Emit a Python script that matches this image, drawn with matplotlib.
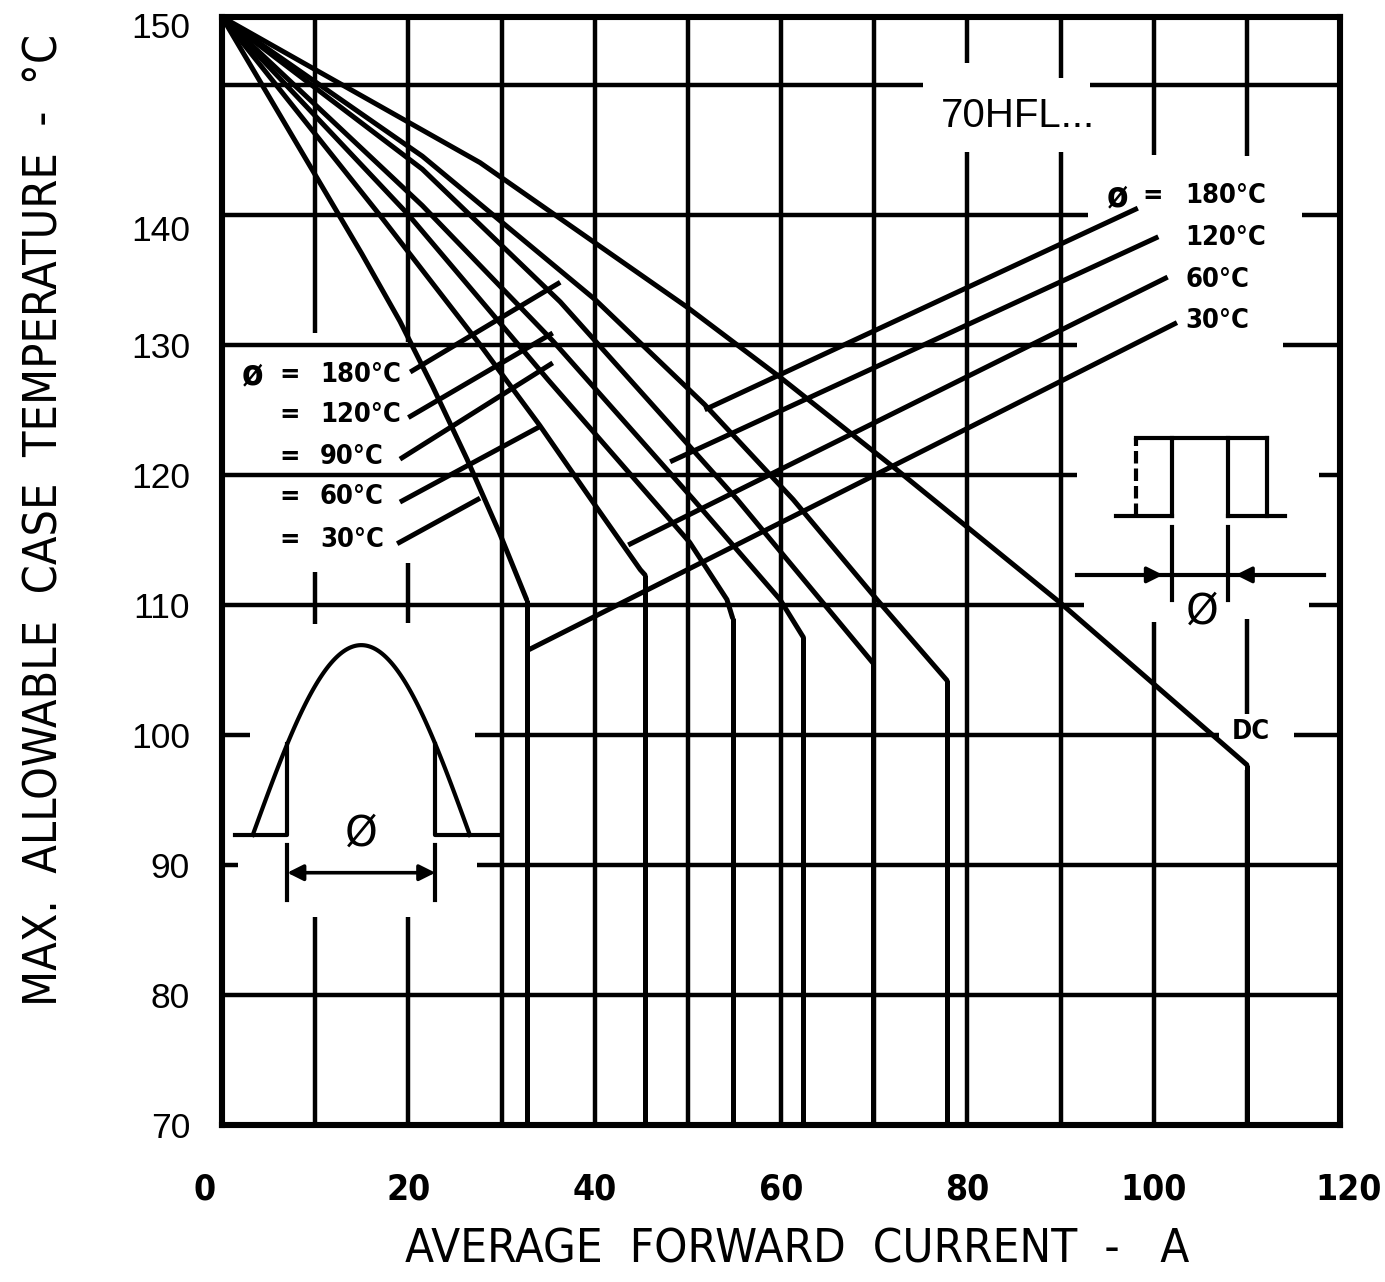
import numpy as np
import matplotlib
matplotlib.use("Agg")
import matplotlib.pyplot as plt
from matplotlib.transforms import ScaledTranslation

# ---------------------------------------------------------------------------
# Max. allowable case temperature vs. average forward current (70HFL...)
# Current in A, temperature in °C.  Each curve turns vertical at its
# maximum average current.
# ---------------------------------------------------------------------------
dc_I = [0, 27.7, 49.9, 59.9, 72.4, 89.9, 110.0]
dc_T = [155.2, 144.0, 132.9, 127.5, 120.4, 110.2, 97.7]

rect30_I = [0, 15.0, 19.1, 22.6, 26.3, 29.8, 32.7]
rect30_T = [155.2, 137.0, 131.8, 126.8, 121.2, 115.5, 110.4]

rect60_I = [0, 16.9, 27.7, 34.1, 40.2, 44.9, 45.4]
rect60_T = [155.2, 140.0, 130.0, 123.8, 117.5, 112.7, 112.3]

rect90_I = [0, 20.0, 35.0, 50.2, 54.2, 54.8]
rect90_T = [155.2, 140.0, 127.3, 114.8, 110.4, 109.0]

rect120_I = [0, 21.5, 35.5, 50.6, 59.9, 62.4]
rect120_T = [155.2, 140.7, 130.3, 118.1, 110.4, 107.5]

sine180_I = [0, 21.5, 36.3, 55.3, 69.9]
sine180_T = [155.2, 143.5, 133.3, 118.1, 105.5]

rect180_I = [0, 21.5, 40.0, 51.8, 61.3, 70.3, 77.8]
rect180_T = [155.2, 144.5, 133.5, 125.4, 118.1, 110.4, 104.2]

curves = [
    (dc_I, dc_T), (rect30_I, rect30_T), (rect60_I, rect60_T),
    (rect90_I, rect90_T), (rect120_I, rect120_T),
    (sine180_I, sine180_T), (rect180_I, rect180_T),
]

# Leader lines from the labels to the curves
sine_labels = ["180°C", "120°C", "90°C", "60°C", "30°C"]
sine_label_T = [127.7, 124.6, 121.4, 118.3, 115.0]
sine_leader_I0 = [20.2, 20.0, 19.1, 19.1, 18.8]
sine_leader_I1 = [36.3, 35.5, 35.5, 34.1, 27.7]
sine_leader_T0 = [127.9, 124.4, 121.2, 117.9, 114.7]
sine_leader_T1 = [134.8, 130.9, 128.6, 123.7, 118.2]

rect_labels = ["180°C", "120°C", "60°C", "30°C"]
rect_label_T = [141.4, 138.2, 135.0, 131.8]
rect_leader_I0 = [98.3, 100.5, 101.5, 102.5]
rect_leader_I1 = [51.8, 48.1, 43.6, 32.8]
rect_leader_T0 = [140.5, 138.3, 135.2, 131.7]
rect_leader_T1 = [125.0, 121.0, 114.6, 106.5]

y_tick_values = [70, 80, 90, 100, 110, 120, 130, 139, 154.6]
y_tick_labels = ["70", "80", "90", "100", "110", "120", "130", "140", "150"]
x_tick_values = [0, 20, 40, 60, 80, 100, 120]

# Grid segments, interrupted where labels and sketches sit
hgrid = {
    80: [(0, 120)],
    90: [(0, 1.7), (27.4, 120)],
    100: [(0, 3.0), (27.2, 107.0), (115.1, 120)],
    110: [(0, 92.5), (116.7, 120)],
    120: [(0, 91.8), (117.7, 120)],
    130: [(0, 91.8), (113.9, 120)],
    140: [(0, 93.0), (115.9, 120)],
    150: [(0, 75.2), (93.2, 120)],
}
vgrid = {
    10: [(70, 86.0), (108.5, 112.5), (130.9, 155.2)],
    20: [(70, 86.0), (108.6, 113.2), (130.2, 155.2)],
    30: [(70, 155.2)], 40: [(70, 155.2)], 50: [(70, 155.2)],
    60: [(70, 155.2)], 70: [(70, 155.2)],
    80: [(70, 144.8), (151.7, 155.2)],
    90: [(70, 144.8), (150.5, 155.2)],
    100: [(70, 108.7), (144.6, 155.2)],
    110: [(70, 97.3), (101.6, 108.9), (144.5, 155.2)],
}

LW_GRID = 3.2
LW_CURVE = 3.6
LW_SKETCH = 3.0
INK = "black"

fig = plt.figure(figsize=(13.85, 12.82), dpi=100)
ax = fig.add_axes([222 / 1385, 1 - 1125 / 1282,
                   (1340 - 222) / 1385, (1125 - 17) / 1282])
ax.set_xlim(0, 120)
ax.set_ylim(70, 155.2)
for sp in ax.spines.values():
    sp.set_linewidth(4.4)
    sp.set_color(INK)
    sp.set_zorder(5)

for y, segs in hgrid.items():
    for a, b in segs:
        ax.plot([a, b], [y, y], color=INK, lw=LW_GRID, solid_capstyle="butt", zorder=1)
for x, segs in vgrid.items():
    for a, b in segs:
        ax.plot([x, x], [a, b], color=INK, lw=LW_GRID, solid_capstyle="butt", zorder=1)

for I, T in curves:
    ax.plot(I, T, color=INK, lw=LW_CURVE, solid_joinstyle="round",
            solid_capstyle="round", zorder=3)
    ax.plot([I[-1], I[-1]], [T[-1], 70], color=INK, lw=LW_CURVE,
            solid_capstyle="butt", zorder=3)

for i0, i1, t0, t1 in zip(sine_leader_I0, sine_leader_I1, sine_leader_T0, sine_leader_T1):
    ax.plot([i0, i1], [t0, t1], color=INK, lw=LW_CURVE, solid_capstyle="butt", zorder=3)
for i0, i1, t0, t1 in zip(rect_leader_I0, rect_leader_I1, rect_leader_T0, rect_leader_T1):
    ax.plot([i0, i1], [t0, t1], color=INK, lw=LW_CURVE, solid_capstyle="butt", zorder=3)

lab_font = dict(family="DejaVu Sans", stretch="condensed", weight="bold",
                fontsize=19.5, color=INK, va="center")
phi_font = dict(lab_font, fontsize=25)
ax.text(3.3, sine_label_T[0], "ø", ha="center", **phi_font)
for lab, t in zip(sine_labels, sine_label_T):
    ax.text(7.3, t, "=", ha="center", **lab_font)
    ax.text(10.5, t, lab, ha="left", **lab_font)

ax.text(96.1, rect_label_T[0], "ø", ha="center", **phi_font)
ax.text(99.9, rect_label_T[0], "=", ha="center", **lab_font)
for lab, t in zip(rect_labels, rect_label_T):
    ax.text(103.4, t, lab, ha="left", **lab_font)
ax.text(108.4, 100.2, "DC", ha="left", **lab_font)

ax.text(85.4, 147.6, "70HFL...", ha="center", va="center",
        family="Liberation Sans", fontsize=29, color=INK)

# Half-sine conduction sketch
base_T = 92.3
s0, s1, amp = 3.3, 26.6, 14.6
xs = np.linspace(s0, s1, 120)
ax.plot(xs, base_T + amp * np.sin(np.pi * (xs - s0) / (s1 - s0)),
        color=INK, lw=LW_SKETCH, zorder=3)
cut_l, cut_r = 7.0, 22.9
h_l = base_T + amp * np.sin(np.pi * (cut_l - s0) / (s1 - s0))
h_r = base_T + amp * np.sin(np.pi * (cut_r - s0) / (s1 - s0))
ax.plot([1.4, cut_l, cut_l], [base_T, base_T, h_l], color=INK, lw=LW_SKETCH, zorder=3)
ax.plot([cut_r, cut_r, 29.8], [h_r, base_T, base_T], color=INK, lw=LW_SKETCH, zorder=3)
for x in (cut_l, cut_r):
    ax.plot([x, x], [91.5, 87.3], color=INK, lw=LW_SKETCH, zorder=3)
ax.annotate("", xy=(cut_l, 89.4), xytext=(cut_r, 89.4),
            arrowprops=dict(arrowstyle="<|-|>", color=INK, lw=2.6,
                            mutation_scale=24, shrinkA=0, shrinkB=0))
ax.text(15.0, 92.4, "Ø", ha="center", va="center", family="DejaVu Sans",
        fontsize=30, color=INK)

# Rectangular conduction sketch
top_T, low_T = 122.8, 116.8
ax.plot([96.0, 102.0], [low_T, low_T], color=INK, lw=LW_SKETCH, zorder=3)
ax.plot([108.0, 114.1], [low_T, low_T], color=INK, lw=LW_SKETCH, zorder=3)
ax.plot([98.1, 98.1], [low_T, top_T], color=INK, lw=LW_SKETCH, ls=(0, (3, 1.2)), zorder=3)
ax.plot([98.1, 112.2], [top_T, top_T], color=INK, lw=LW_SKETCH, zorder=3)
for x in (102.0, 108.0, 112.2):
    ax.plot([x, x], [low_T, top_T], color=INK, lw=LW_SKETCH, zorder=3)
for x in (102.0, 108.0):
    ax.plot([x, x], [116.0, 110.4], color=INK, lw=LW_SKETCH, zorder=3)
ax.plot([91.8, 118.3], [112.3, 112.3], color=INK, lw=LW_SKETCH, zorder=3)
ax.annotate("", xy=(101.0, 112.3), xytext=(96.8, 112.3),
            arrowprops=dict(arrowstyle="-|>", color=INK, lw=2.6,
                            mutation_scale=24, shrinkA=0, shrinkB=0))
ax.annotate("", xy=(108.8, 112.3), xytext=(112.5, 112.3),
            arrowprops=dict(arrowstyle="-|>", color=INK, lw=2.6,
                            mutation_scale=24, shrinkA=0, shrinkB=0))
ax.text(105.2, 109.5, "Ø", ha="center", va="center", family="DejaVu Sans",
        fontsize=30, color=INK)

# Axes, ticks and titles
ax.set_yticks(y_tick_values)
ax.set_yticklabels(y_tick_labels, family="Liberation Sans", fontsize=25.5)
ax.set_xticks(x_tick_values)
ax.set_xticklabels([str(v) for v in x_tick_values], family="DejaVu Sans",
                   stretch="condensed", weight="bold", fontsize=25.5)
ax.tick_params(axis="y", length=0, pad=23)
ax.tick_params(axis="x", length=0, pad=34)
xlabs = ax.get_xticklabels()
xlabs[0].set_transform(xlabs[0].get_transform()
                       + ScaledTranslation(-0.17, 0, fig.dpi_scale_trans))
xlabs[-1].set_transform(xlabs[-1].get_transform()
                        + ScaledTranslation(0.09, 0, fig.dpi_scale_trans))

fig.text(797 / 1385, 1 - 1250 / 1282, "AVERAGE  FORWARD  CURRENT  -   A",
         ha="center", va="center", family="DejaVu Sans", stretch="condensed",
         fontsize=34, color=INK)
fig.text(45 / 1385, 1 - 520 / 1282, "MAX.  ALLOWABLE  CASE  TEMPERATURE  -  °C",
         ha="center", va="center", rotation=90, family="DejaVu Sans",
         stretch="condensed", fontsize=33.5, color=INK)

fig.savefig("out.png", dpi=100, facecolor="white")
